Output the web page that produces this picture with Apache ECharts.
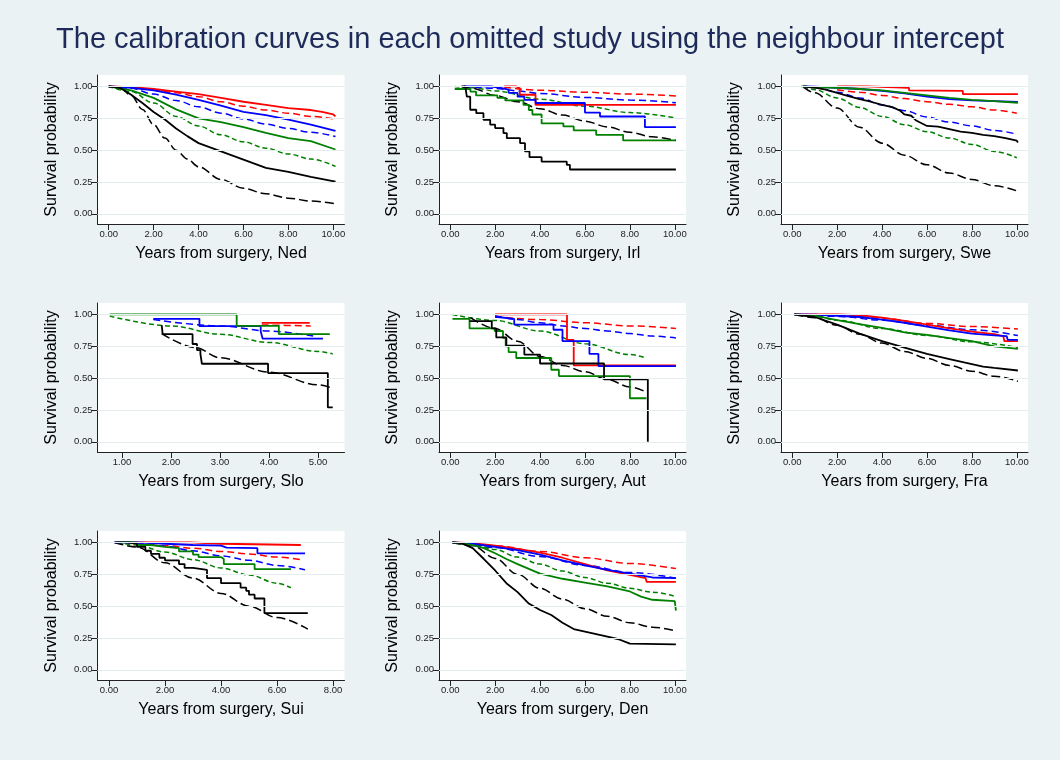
<!DOCTYPE html>
<html>
<head>
<meta charset="utf-8">
<title>Calibration curves</title>
<script src="https://cdn.jsdelivr.net/npm/echarts@6/dist/echarts.min.js"></script>
<style>
  html, body { margin: 0; padding: 0; background: #eaf2f3; }
  #draw { width: 1060px; height: 760px; }
</style>
</head>
<body>
<div id="draw"></div>
<script>
// ---- data: each list is [red, blue, green, black], points are [years, survival]
// observed (solid) and predicted (dashed) curves per omitted study

var nedObs = [
    [[0,1],[1,0.995],[2,0.98],[3,0.96],[4,0.94],[5,0.91],[6,0.88],[7,0.855],[8,0.83],[9,0.815],[9.5,0.8],[10,0.78],[10.1,0.765]],
    [[0,1],[1,0.99],[2,0.97],[3,0.935],[4,0.895],[5,0.85],[6,0.8],[7,0.775],[8,0.74],[9,0.7],[10.1,0.652]],
    [[0,1],[1,0.97],[2,0.91],[3,0.82],[4,0.75],[5,0.72],[6,0.68],[7,0.635],[8,0.595],[9,0.57],[10.1,0.505]],
    [[0,1],[0.5,0.99],[1,0.935],[1.5,0.87],[2,0.8],[2.5,0.74],[3,0.67],[3.5,0.61],[4,0.555],[5,0.49],[6,0.425],[7,0.36],[8,0.33],[9,0.29],[10.1,0.252]]
];
var nedPred = [
    [[0,1],[1,0.995],[2,0.975],[3,0.95],[4,0.92],[5,0.88],[6,0.845],[7,0.815],[8,0.79],[9,0.765],[10.1,0.742]],
    [[0,1],[1,0.985],[2,0.94],[3,0.89],[4,0.84],[5,0.79],[6,0.745],[7,0.705],[8,0.67],[9,0.64],[10.1,0.607]],
    [[0,1],[1,0.96],[2,0.87],[3,0.765],[4,0.69],[5,0.62],[6,0.565],[7,0.515],[8,0.47],[9,0.43],[10.1,0.372]],
    [[0,1],[0.5,0.99],[1,0.93],[1.5,0.82],[2,0.7],[2.5,0.595],[3,0.5],[3.5,0.43],[4,0.37],[5,0.27],[6,0.2],[7,0.157],[8,0.123],[9,0.1],[10.1,0.078]]
];

var irlObs = [
    [[2.4,1],[2.95,0.985],[3.1,0.935],[3.8,0.855],[10.05,0.855]],
    [[0.6,1],[1.8,0.99],[2.2,0.975],[2.6,0.95],[3.0,0.92],[3.3,0.895],[3.8,0.87],[6.0,0.795],[6.67,0.764],[8.67,0.68],[10.05,0.68]],
    [[0.2,0.98],[0.9,0.96],[1.15,0.93],[2.1,0.91],[2.45,0.89],[3.26,0.856],[3.5,0.815],[3.66,0.78],[4.07,0.71],[5.04,0.686],[5.5,0.655],[6.5,0.62],[7.7,0.576],[10.05,0.576]],
    [[0.5,1],[0.67,0.987],[0.74,0.92],[0.89,0.817],[1.16,0.79],[1.48,0.738],[1.78,0.7],[2.0,0.673],[2.37,0.634],[2.52,0.594],[3.11,0.555],[3.33,0.49],[3.53,0.445],[4.07,0.41],[5.19,0.385],[5.33,0.348],[10.05,0.348]]
];
var irlPred = [
    [[2.4,0.995],[4,0.97],[6,0.955],[8,0.94],[10.05,0.925]],
    [[0.6,1],[2,0.985],[3,0.965],[4,0.945],[6,0.914],[8,0.893],[10.05,0.872]],
    [[0.2,1],[1,0.99],[2,0.965],[4,0.9],[6,0.845],[8,0.795],[10.05,0.752]],
    [[0.5,1],[1,0.985],[2,0.93],[3,0.88],[4,0.825],[5,0.775],[6,0.728],[7,0.682],[8,0.64],[9,0.605],[10.05,0.575]]
];

var sweObs = [
    [[2,1],[3.3,1],[3.3,0.995],[5.2,0.99],[5.2,0.97],[7.6,0.965],[7.6,0.94],[10.05,0.94]],
    [[0.5,1],[1,0.998],[2,0.99],[3,0.98],[4,0.965],[5,0.945],[6,0.92],[7,0.9],[8,0.89],[9,0.885],[10.05,0.878]],
    [[0.4,1],[1,0.995],[2,0.99],[3,0.98],[4,0.97],[5,0.95],[6,0.93],[7,0.91],[8,0.895],[9,0.885],[10.05,0.872]],
    [[0.5,1],[1,0.99],[1.5,0.975],[2,0.95],[2.5,0.925],[3,0.9],[3.5,0.88],[4,0.855],[4.5,0.835],[4.8,0.81],[5,0.78],[5.3,0.77],[5.5,0.735],[6,0.69],[6.5,0.685],[7,0.665],[7.5,0.645],[8,0.635],[8.5,0.62],[9,0.61],[9.5,0.595],[10,0.575],[10.05,0.56]]
];
var swePred = [
    [[2,0.975],[3,0.955],[4,0.93],[5,0.905],[6,0.88],[7,0.86],[8,0.84],[9,0.815],[10,0.79]],
    [[0.5,1],[1,0.995],[2,0.955],[3,0.91],[4,0.855],[5,0.81],[6,0.76],[7,0.72],[8,0.69],[9,0.655],[10,0.625]],
    [[0.5,1],[1,0.975],[2,0.91],[3,0.835],[4,0.765],[5,0.7],[6,0.645],[7,0.595],[8,0.545],[9,0.49],[10,0.44]],
    [[0.5,0.995],[1,0.95],[2,0.83],[3,0.68],[4,0.555],[5,0.46],[6,0.385],[7,0.32],[8,0.27],[9,0.22],[10,0.18]]
];

var sloObs = [
    [[3.85,0.934],[4.83,0.934]],
    [[1.64,0.966],[2.58,0.908],[3.83,0.868],[3.87,0.81],[5.1,0.81]],
    [[0.75,1],[3.34,0.91],[4.2,0.845],[5.24,0.845]],
    [[1.81,0.916],[1.83,0.845],[2.44,0.768],[2.53,0.72],[2.6,0.69],[2.63,0.613],[3.98,0.54],[5.2,0.27],[5.3,0.27]]
];
var sloPred = [
    [[3.85,0.918],[4.85,0.91]],
    [[1.64,0.96],[3,0.91],[4,0.87],[4.9,0.83]],
    [[0.75,0.987],[2,0.91],[3,0.845],[4,0.78],[5,0.71],[5.3,0.69]],
    [[1.81,0.85],[2.5,0.74],[3,0.66],[4,0.547],[5,0.447],[5.3,0.42]]
];

var autObs = [
    [[2,1],[5.2,0.8],[5.5,0.6],[10.05,0.6]],
    [[2,0.98],[2.1,0.965],[2.85,0.92],[4.6,0.88],[5.0,0.79],[6.2,0.69],[6.6,0.595],[10.05,0.595]],
    [[0.1,0.965],[0.86,0.89],[1.98,0.87],[2.35,0.816],[2.47,0.75],[2.6,0.705],[2.94,0.658],[4.5,0.566],[4.84,0.516],[8.0,0.342],[8.74,0.342]],
    [[0.86,0.947],[1.85,0.89],[2.05,0.82],[2.5,0.755],[3.3,0.685],[4.0,0.615],[6.85,0.49],[8.8,0]]
];
var autPred = [
    [[2,0.984],[4,0.96],[6,0.935],[8,0.91],[10.05,0.89]],
    [[2,0.99],[3,0.96],[4,0.935],[5,0.91],[6,0.89],[7,0.87],[8,0.85],[9,0.83],[10.05,0.815]],
    [[0.1,1],[2,0.953],[4,0.87],[6,0.77],[8,0.685],[8.7,0.66]],
    [[0.9,0.975],[2,0.89],[3,0.79],[4,0.67],[5,0.6],[6,0.55],[7,0.49],[8,0.43],[8.8,0.385]]
];

var fraObs = [
    [[0.1,1],[1,1],[2,1],[3,0.995],[4,0.975],[5,0.95],[6,0.92],[7,0.89],[8,0.865],[9,0.845],[9.4,0.83],[9.45,0.79],[10.05,0.79]],
    [[0.1,1],[1,0.998],[2,0.99],[3,0.98],[4,0.96],[5,0.935],[6,0.905],[7,0.875],[8,0.85],[9,0.835],[9.55,0.83],[9.6,0.8],[10.05,0.8]],
    [[0.1,1],[1,0.99],[2,0.955],[3,0.925],[4,0.895],[5,0.86],[6,0.84],[7,0.815],[8,0.79],[9,0.75],[10.05,0.73]],
    [[0.1,1],[1,0.98],[2,0.92],[3,0.85],[4,0.79],[5,0.74],[6,0.69],[7,0.65],[8,0.61],[8.5,0.59],[9,0.58],[10.05,0.56]]
];
var fraPred = [
    [[0.1,1],[2,0.995],[4,0.97],[6,0.93],[8,0.905],[10.05,0.885]],
    [[0.1,1],[2,0.985],[4,0.955],[6,0.915],[8,0.88],[10.05,0.835]],
    [[0.1,1],[1,0.985],[2,0.955],[4,0.89],[6,0.835],[8,0.785],[10.05,0.74]],
    [[0.1,1],[1,0.975],[2,0.915],[3,0.845],[4,0.775],[5,0.71],[6,0.655],[7,0.6],[8,0.555],[9,0.515],[10.05,0.475]]
];

var suiObs = [
    [[0.7,1],[2.9,0.99],[4.0,0.98],[6.85,0.98]],
    [[0.2,1],[1,0.99],[2,0.98],[3,0.975],[4,0.96],[4.2,0.955],[5.3,0.915],[7,0.915]],
    [[0.3,1],[1,0.98],[1.5,0.965],[2,0.955],[2.5,0.93],[3,0.905],[3.2,0.885],[4.0,0.87],[4.1,0.83],[5.2,0.79],[6.5,0.79]],
    [[0.2,1],[0.7,0.99],[1,0.965],[1.3,0.935],[1.5,0.91],[1.8,0.88],[2,0.86],[2.5,0.83],[2.7,0.8],[3,0.785],[3.5,0.72],[4,0.68],[4.7,0.645],[4.9,0.62],[5,0.59],[5.2,0.56],[5.55,0.445],[7.1,0.445]]
];
var suiPred = [
    [[0.7,0.995],[2,0.975],[3,0.955],[4,0.93],[5,0.91],[6,0.885],[6.85,0.865]],
    [[0.2,1],[1,0.995],[2,0.97],[3,0.935],[4,0.895],[5,0.86],[6,0.82],[7,0.785]],
    [[0.3,1],[1,0.98],[2,0.925],[3,0.865],[4,0.8],[5,0.745],[6,0.68],[6.5,0.645]],
    [[0.2,1],[1,0.965],[2,0.84],[3,0.72],[4,0.6],[5,0.5],[6,0.41],[7.1,0.32]]
];

var denObs = [
    [[0.1,1],[1,0.995],[2,0.975],[3,0.95],[4,0.92],[5,0.88],[6,0.83],[7,0.78],[8,0.745],[8.7,0.72],[8.75,0.69],[10.05,0.69]],
    [[0.1,1],[1,0.99],[2,0.965],[3,0.94],[4,0.905],[5,0.86],[6,0.82],[7,0.785],[8,0.755],[9,0.725],[10.05,0.72]],
    [[0.1,1],[1,0.98],[1.5,0.955],[2,0.915],[2.5,0.87],[3,0.83],[4,0.755],[5,0.715],[6,0.685],[7,0.655],[8,0.615],[8.5,0.575],[9,0.55],[10,0.54],[10.05,0.465]],
    [[0.1,1],[0.5,0.995],[1,0.955],[1.5,0.87],[2,0.78],[2.5,0.68],[3,0.61],[3.5,0.52],[4,0.47],[4.5,0.43],[5,0.37],[5.5,0.32],[6,0.3],[7,0.26],[7.5,0.24],[8,0.205],[10.05,0.2]]
];
var denPred = [
    [[0.1,1],[2,0.975],[4,0.93],[6,0.88],[8,0.835],[10.05,0.795]],
    [[0.1,1],[2,0.96],[4,0.89],[6,0.82],[8,0.765],[10.05,0.72]],
    [[0.1,1],[1,0.985],[2,0.945],[3,0.885],[4,0.83],[5,0.775],[6,0.725],[7,0.68],[8,0.64],[9,0.61],[10.05,0.575]],
    [[0.1,1],[1,0.975],[2,0.875],[3,0.75],[4,0.64],[5,0.555],[6,0.48],[7,0.42],[8,0.37],[9,0.335],[10.05,0.305]]
];

var yTicks = [0, 0.25, 0.5, 0.75, 1];
var xTicks10 = [0, 2, 4, 6, 8, 10];
var xTicksSlo = [1, 2, 3, 4, 5];
var xTicksSui = [0, 2, 4, 6, 8];

// ---- layout
var TITLE = 'The calibration curves in each omitted study using the neighbour intercept';
var FONT = '"Liberation Sans", Arial, Helvetica, sans-serif';
var COLORS = ['#ff0000', '#0000ff', '#008000', '#000000'];
var DASHES = [[7, 4], [7, 4], [5, 3], [9, 4]];
var COL_LEFT = [97.5, 439, 781];
var ROW_TOP = [75, 303, 531];
var PW = 247, PH = 149;

var panels = [
    {name: 'Ned', col: 0, row: 0, xmin: -0.5, xmax: 10.5, ticks: xTicks10, step: false, obs: nedObs, pred: nedPred},
    {name: 'Irl', col: 1, row: 0, xmin: -0.5, xmax: 10.5, ticks: xTicks10, step: true,  obs: irlObs, pred: irlPred},
    {name: 'Swe', col: 2, row: 0, xmin: -0.5, xmax: 10.5, ticks: xTicks10, step: false, obs: sweObs, pred: swePred},
    {name: 'Slo', col: 0, row: 1, xmin: 0.5,  xmax: 5.54, ticks: xTicksSlo, step: true, obs: sloObs, pred: sloPred},
    {name: 'Aut', col: 1, row: 1, xmin: -0.5, xmax: 10.5, ticks: xTicks10, step: true,  obs: autObs, pred: autPred},
    {name: 'Fra', col: 2, row: 1, xmin: -0.5, xmax: 10.5, ticks: xTicks10, step: false, obs: fraObs, pred: fraPred},
    {name: 'Sui', col: 0, row: 2, xmin: -0.41, xmax: 8.41, ticks: xTicksSui, step: true, obs: suiObs, pred: suiPred},
    {name: 'Den', col: 1, row: 2, xmin: -0.5, xmax: 10.5, ticks: xTicks10, step: false, obs: denObs, pred: denPred}
];

var grids = [], xAxes = [], yAxes = [], series = [];

panels.forEach(function(p, i){
    grids.push({
        left: COL_LEFT[p.col], top: ROW_TOP[p.row], width: PW, height: PH,
        show: true, backgroundColor: '#ffffff', borderWidth: 0, containLabel: false
    });
    xAxes.push({
        type: 'value', gridIndex: i, min: p.xmin, max: p.xmax,
        name: 'Years from surgery, ' + p.name,
        nameLocation: 'middle', nameGap: 22,
        nameTextStyle: {fontSize: 16, color: '#000', fontFamily: FONT},
        axisLine: {onZero: false, lineStyle: {color: '#222', width: 1}},
        axisTick: {customValues: p.ticks, length: 6, lineStyle: {color: '#222'}},
        axisLabel: {
            customValues: p.ticks, margin: 5, fontSize: 9.5, color: '#222', fontFamily: FONT,
            formatter: function(v){ return v.toFixed(2); }
        },
        splitLine: {show: false}
    });
    yAxes.push({
        type: 'value', gridIndex: i, min: -0.08, max: 1.09,
        name: 'Survival probability',
        nameLocation: 'middle', nameGap: 38, nameRotate: 90,
        nameTextStyle: {fontSize: 16, color: '#000', fontFamily: FONT},
        axisLine: {onZero: false, lineStyle: {color: '#222', width: 1}},
        axisTick: {customValues: yTicks, length: 6, lineStyle: {color: '#222'}},
        axisLabel: {
            customValues: yTicks, margin: 5, fontSize: 9.5, color: '#222', fontFamily: FONT,
            formatter: function(v){ return v.toFixed(2); }
        },
        splitLine: {show: false}
    });

    // faint horizontal grid lines at the y ticks
    series.push({
        type: 'line', xAxisIndex: i, yAxisIndex: i, z: 1, silent: true,
        data: [[p.ticks[0], 1]], symbol: 'none', lineStyle: {opacity: 0},
        markLine: {
            silent: true, symbol: 'none', label: {show: false},
            lineStyle: {color: '#e4eef0', width: 1, type: 'solid'},
            data: yTicks.map(function(t){ return {yAxis: t}; })
        }
    });

    p.pred.forEach(function(d, k){
        series.push({
            type: 'line', xAxisIndex: i, yAxisIndex: i, z: 2,
            data: d, symbol: 'none', smooth: 0.35, smoothMonotone: 'x',
            lineStyle: {color: COLORS[k], width: 1.5, type: DASHES[k]}
        });
    });
    p.obs.forEach(function(d, k){
        series.push({
            type: 'line', xAxisIndex: i, yAxisIndex: i, z: 3,
            data: d, symbol: 'none', step: p.step ? 'end' : false,
            lineStyle: {color: COLORS[k], width: 1.8}
        });
    });
});

var chart = echarts.init(document.getElementById('draw'));
chart.setOption({
    backgroundColor: '#eaf2f3',
    animation: false,
    title: {
        text: TITLE, left: 'center', top: 20,
        textStyle: {fontSize: 29, fontWeight: 'normal', color: '#1e2b5a', fontFamily: FONT}
    },
    grid: grids,
    xAxis: xAxes,
    yAxis: yAxes,
    series: series
});
</script>
</body>
</html>
